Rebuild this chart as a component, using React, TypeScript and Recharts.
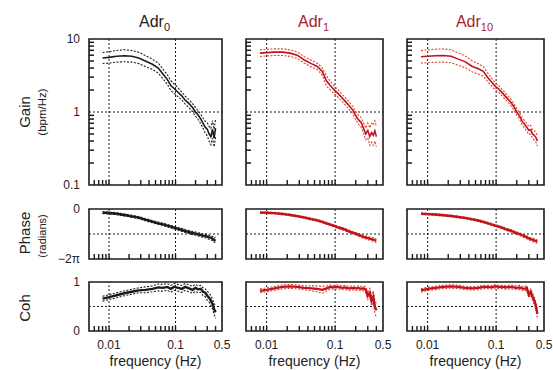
import React from 'react';
import { LineChart, Line, XAxis, YAxis, ReferenceLine, ReferenceArea } from 'recharts';

// frequency grid (Hz) shared by all panels
const FREQ = [
  0.008, 0.01, 0.013, 0.017, 0.022, 0.028, 0.035, 0.045, 0.055, 0.065,
  0.075, 0.085, 0.095, 0.11, 0.125, 0.14, 0.16, 0.18, 0.2, 0.22,
  0.24, 0.26, 0.28, 0.3, 0.32, 0.34, 0.36, 0.38, 0.4,
];

// gain (bpm/Hz) and spread (log10 units)
const GAIN_ADR0 = [5.5, 5.6, 5.8, 5.9, 5.8, 5.5, 5.0, 4.5, 4.0, 3.3, 2.8, 2.3, 2.1, 1.85, 1.65, 1.45, 1.3, 1.15, 1.0, 0.9, 0.8, 0.7, 0.62, 0.58, 0.5, 0.46, 0.58, 0.44, 0.6];
const GAIN_SE_ADR0 = [0.075, 0.078, 0.08, 0.082, 0.08, 0.078, 0.075, 0.07, 0.068, 0.066, 0.066, 0.066, 0.065, 0.06, 0.055, 0.055, 0.055, 0.055, 0.06, 0.06, 0.065, 0.07, 0.08, 0.09, 0.1, 0.11, 0.12, 0.12, 0.12];
const GAIN_ADR1 = [6.4, 6.5, 6.6, 6.6, 6.4, 6.0, 5.2, 4.6, 4.2, 3.6, 2.65, 2.3, 2.05, 1.8, 1.58, 1.41, 1.22, 1.07, 0.89, 0.78, 0.72, 0.6, 0.5, 0.56, 0.46, 0.52, 0.48, 0.55, 0.46];
const GAIN_SE_ADR1 = [0.045, 0.045, 0.045, 0.045, 0.045, 0.045, 0.045, 0.045, 0.045, 0.05, 0.07, 0.06, 0.055, 0.05, 0.05, 0.05, 0.05, 0.05, 0.055, 0.06, 0.065, 0.07, 0.08, 0.1, 0.12, 0.13, 0.14, 0.14, 0.14];
const GAIN_ADR10 = [5.7, 5.8, 5.9, 5.95, 5.8, 5.3, 4.9, 4.2, 3.9, 3.6, 3.0, 2.6, 2.3, 2.05, 1.8, 1.6, 1.4, 1.2, 1.0, 0.88, 0.75, 0.68, 0.62, 0.56, 0.57, 0.5, 0.48, 0.45, 0.4];
const GAIN_SE_ADR10 = [0.085, 0.088, 0.09, 0.09, 0.088, 0.085, 0.08, 0.075, 0.07, 0.065, 0.06, 0.055, 0.05, 0.045, 0.045, 0.045, 0.045, 0.045, 0.045, 0.045, 0.05, 0.05, 0.055, 0.055, 0.06, 0.06, 0.065, 0.065, 0.07];

// phase (radians) and spread
const PHASE_ADR0 = [-0.46, -0.5, -0.59, -0.75, -0.92, -1.09, -1.34, -1.59, -1.8, -1.93, -2.1, -2.22, -2.35, -2.51, -2.64, -2.77, -2.89, -3.02, -3.1, -3.19, -3.27, -3.35, -3.39, -3.48, -3.56, -3.6, -3.73, -3.9, -3.81];
const PHASE_SE_ADR0 = [0.12, 0.12, 0.12, 0.13, 0.13, 0.14, 0.14, 0.15, 0.15, 0.15, 0.16, 0.16, 0.17, 0.17, 0.18, 0.18, 0.19, 0.2, 0.2, 0.21, 0.22, 0.22, 0.23, 0.24, 0.25, 0.26, 0.27, 0.28, 0.3];
const PHASE_ADR1 = [-0.46, -0.48, -0.52, -0.62, -0.75, -0.9, -1.05, -1.28, -1.42, -1.62, -1.8, -1.95, -2.1, -2.3, -2.45, -2.6, -2.8, -2.98, -3.1, -3.25, -3.38, -3.5, -3.58, -3.65, -3.72, -3.78, -3.85, -3.92, -3.98];
const PHASE_SE_ADR1 = [0.1, 0.1, 0.1, 0.1, 0.11, 0.11, 0.11, 0.12, 0.12, 0.12, 0.13, 0.13, 0.13, 0.14, 0.14, 0.15, 0.15, 0.16, 0.16, 0.17, 0.18, 0.19, 0.2, 0.2, 0.21, 0.22, 0.23, 0.24, 0.25];
const PHASE_ADR10 = [-0.6, -0.64, -0.7, -0.78, -0.88, -1.0, -1.12, -1.3, -1.45, -1.62, -1.78, -1.92, -2.06, -2.22, -2.38, -2.55, -2.7, -2.88, -3.02, -3.16, -3.3, -3.42, -3.55, -3.68, -3.78, -3.86, -3.95, -4.02, -4.1];
const PHASE_SE_ADR10 = [0.1, 0.1, 0.1, 0.1, 0.1, 0.11, 0.11, 0.11, 0.12, 0.12, 0.12, 0.13, 0.13, 0.13, 0.14, 0.14, 0.15, 0.15, 0.16, 0.16, 0.17, 0.18, 0.18, 0.19, 0.2, 0.21, 0.22, 0.23, 0.24];

// coherence and spread
const COH_ADR0 = [0.66, 0.69, 0.73, 0.77, 0.8, 0.83, 0.84, 0.86, 0.89, 0.88, 0.9, 0.86, 0.9, 0.88, 0.86, 0.9, 0.87, 0.84, 0.88, 0.85, 0.86, 0.8, 0.78, 0.72, 0.68, 0.62, 0.55, 0.45, 0.38];
const COH_SE_ADR0 = [0.05, 0.05, 0.05, 0.05, 0.05, 0.05, 0.06, 0.06, 0.07, 0.07, 0.07, 0.07, 0.07, 0.07, 0.07, 0.07, 0.07, 0.07, 0.07, 0.07, 0.07, 0.08, 0.08, 0.09, 0.09, 0.1, 0.1, 0.11, 0.12];
const COH_ADR1 = [0.82, 0.84, 0.87, 0.9, 0.91, 0.9, 0.88, 0.87, 0.86, 0.84, 0.87, 0.9, 0.89, 0.9, 0.88, 0.89, 0.87, 0.88, 0.87, 0.88, 0.86, 0.87, 0.84, 0.72, 0.78, 0.62, 0.7, 0.5, 0.42];
const COH_SE_ADR1 = [0.04, 0.04, 0.04, 0.04, 0.04, 0.04, 0.04, 0.05, 0.06, 0.07, 0.05, 0.04, 0.04, 0.04, 0.04, 0.04, 0.04, 0.04, 0.04, 0.04, 0.05, 0.05, 0.06, 0.08, 0.09, 0.1, 0.12, 0.13, 0.14];
const COH_ADR10 = [0.83, 0.86, 0.88, 0.9, 0.91, 0.9, 0.88, 0.87, 0.88, 0.9, 0.9, 0.89, 0.91, 0.9, 0.9, 0.89, 0.9, 0.89, 0.88, 0.89, 0.87, 0.86, 0.88, 0.74, 0.8, 0.7, 0.62, 0.52, 0.35];
const COH_SE_ADR10 = [0.035, 0.035, 0.035, 0.035, 0.035, 0.035, 0.035, 0.035, 0.035, 0.035, 0.035, 0.035, 0.035, 0.035, 0.035, 0.035, 0.04, 0.04, 0.04, 0.04, 0.04, 0.045, 0.05, 0.06, 0.06, 0.07, 0.07, 0.08, 0.08];

const X_TICKS = [0.006, 0.007, 0.008, 0.009, 0.01, 0.02, 0.03, 0.04, 0.05, 0.06, 0.07, 0.08, 0.09, 0.1, 0.2, 0.3, 0.4, 0.5];
const X_LABELS: Record<string, string> = { '0.01': '0.01', '0.1': '0.1', '0.5': '0.5' };
const GAIN_TICKS = [0.1, 0.2, 0.3, 0.4, 0.5, 0.6, 0.7, 0.8, 0.9, 1, 2, 3, 4, 5, 6, 7, 8, 9, 10];
const GAIN_LABELS: Record<string, string> = { '0.1': '0.1', '1': '1', '10': '10' };
const PHASE_TICKS = [-2 * Math.PI, -Math.PI, 0];
const COH_TICKS = [0, 0.5, 1];

const TITLES = [
  { base: 'Adr', sub: '0' },
  { base: 'Adr', sub: '1' },
  { base: 'Adr', sub: '10' },
];

const GROUPS = [
  { gain: GAIN_ADR0, gainSe: GAIN_SE_ADR0, phase: PHASE_ADR0, phaseSe: PHASE_SE_ADR0, coh: COH_ADR0, cohSe: COH_SE_ADR0 },
  { gain: GAIN_ADR1, gainSe: GAIN_SE_ADR1, phase: PHASE_ADR1, phaseSe: PHASE_SE_ADR1, coh: COH_ADR1, cohSe: COH_SE_ADR1 },
  { gain: GAIN_ADR10, gainSe: GAIN_SE_ADR10, phase: PHASE_ADR10, phaseSe: PHASE_SE_ADR10, coh: COH_ADR10, cohSe: COH_SE_ADR10 },
];

const TABLE = FREQ.map((f, i) => {
  const row: Record<string, number> = { f };
  GROUPS.forEach((g, k) => {
    const m = Math.pow(10, g.gainSe[i]);
    row[`gain${k}`] = g.gain[i];
    row[`gain${k}hi`] = g.gain[i] * m;
    row[`gain${k}lo`] = g.gain[i] / m;
    row[`phase${k}`] = g.phase[i];
    row[`phase${k}hi`] = g.phase[i] + g.phaseSe[i];
    row[`phase${k}lo`] = g.phase[i] - g.phaseSe[i];
    row[`coh${k}`] = g.coh[i];
    row[`coh${k}hi`] = g.coh[i] + g.cohSe[i];
    row[`coh${k}lo`] = g.coh[i] - g.cohSe[i];
  });
  return row;
});

const FONT = '"Liberation Sans", Arial, sans-serif';
const INK = '#1b1b1b';
const RED = '#c1121f';
const RED_BAND = '#d9472b';
const RED_TITLE = '#a51d2a';

const COL_LEFT = [89, 246, 407];
const COL_W = [133, 137, 137];
const ROWS = [
  { key: 'gain', top: 39, h: 146, domain: [0.1, 10], ticks: GAIN_TICKS, scale: 'log', mid: 1 },
  { key: 'phase', top: 209, h: 50, domain: [-2 * Math.PI, 0], ticks: PHASE_TICKS, scale: 'linear', mid: -Math.PI },
  { key: 'coh', top: 282, h: 49, domain: [0, 1], ticks: COH_TICKS, scale: 'linear', mid: 0.5 },
];

const YW = 40;
const MT = 10;
const MR = 12;
const XH = 26;

function XTick(props: any) {
  const { x, y, payload, showLabel } = props;
  const v = payload.value;
  const label = X_LABELS[String(v)];
  const len = v >= 0.5 ? 0 : 5;
  return (
    <g>
      {len > 0 && <line x1={x} x2={x} y1={y} y2={y - len} stroke={INK} strokeWidth={1.4} />}
      {showLabel && label && (
        <text x={x} y={y + 18} textAnchor="middle" fontSize={12} fontFamily={FONT} fill="#222">
          {label}
        </text>
      )}
    </g>
  );
}

function yLabel(rowKey: string, v: number) {
  if (rowKey === 'gain') return GAIN_LABELS[String(v)];
  if (rowKey === 'phase') {
    if (v === 0) return '0';
    if (v < -6) return '\u22122\u03c0';
    return undefined;
  }
  if (v === 0) return '0';
  if (v === 1) return '1';
  return undefined;
}

function YTick(props: any) {
  const { y, payload, rowKey, showLabel, plotLeft } = props;
  const v = payload.value;
  const label = yLabel(rowKey, v);
  const minor = rowKey === 'gain' && v !== 0.1 && v !== 1 && v !== 10;
  return (
    <g>
      {minor && <line x1={plotLeft} x2={plotLeft + 5} y1={y} y2={y} stroke={INK} strokeWidth={1.5} />}
      {showLabel && label && (
        <text x={plotLeft - 9} y={y} dy="0.35em" textAnchor="end" fontSize={12} fontFamily={FONT} fill="#222">
          {label}
        </text>
      )}
    </g>
  );
}

function Panel({ col, row }: { col: number; row: number }) {
  const r = ROWS[row];
  const w = COL_W[col];
  const red = col > 0;
  const main = red ? RED : INK;
  const band = red ? RED_BAND : INK;
  const k = `${r.key}${col}`;
  const thick = row === 0 ? 1.6 : 2.4;
  return (
    <div style={{ position: 'absolute', left: COL_LEFT[col] - YW, top: r.top - MT }}>
      <LineChart
        width={YW + w + MR}
        height={MT + r.h + XH}
        data={TABLE}
        margin={{ top: MT, right: MR, left: 0, bottom: 0 }}
      >
        <XAxis
          dataKey="f"
          type="number"
          scale="log"
          domain={[0.005, 0.5]}
          allowDataOverflow
          ticks={X_TICKS}
          interval={0}
          height={XH}
          axisLine={false}
          tickLine={false}
          tickSize={0}
          tickMargin={0}
          tick={(p: any) => <XTick {...p} showLabel={row === 2} />}
        />
        <YAxis
          type="number"
          scale={r.scale as any}
          domain={r.domain}
          allowDataOverflow
          ticks={r.ticks}
          interval={0}
          width={YW}
          axisLine={false}
          tickLine={false}
          tickSize={0}
          tickMargin={0}
          tick={(p: any) => <YTick {...p} rowKey={r.key} showLabel={col === 0} plotLeft={YW} />}
        />
        <ReferenceLine x={0.01} stroke={INK} strokeWidth={1} strokeDasharray="2 2" />
        <ReferenceLine x={0.1} stroke={INK} strokeWidth={1} strokeDasharray="2 2" />
        <ReferenceLine y={r.mid} stroke={INK} strokeWidth={1} strokeDasharray="2 2" />
        <Line dataKey={`${k}hi`} stroke={band} strokeWidth={1.1} strokeDasharray="2 1.5" dot={false} isAnimationActive={false} />
        <Line dataKey={`${k}lo`} stroke={band} strokeWidth={1.1} strokeDasharray="2 1.5" dot={false} isAnimationActive={false} />
        <Line dataKey={k} stroke={main} strokeWidth={thick} dot={false} isAnimationActive={false} />
        <ReferenceArea
          x1={0.005}
          x2={0.5}
          y1={r.domain[0]}
          y2={r.domain[1]}
          fill="none"
          stroke={INK}
          strokeWidth={1.6}
          ifOverflow="visible"
        />
      </LineChart>
    </div>
  );
}

function Labels() {
  const centers = COL_LEFT.map((l, i) => l + COL_W[i] / 2);
  return (
    <svg width={553} height={370} style={{ position: 'absolute', left: 0, top: 0 }} fontFamily={FONT}>
      {TITLES.map((t, i) => (
        <text key={t.sub} x={centers[i] - 1} y={27} textAnchor="middle" fontSize={16} fill={i === 0 ? '#222' : RED_TITLE}>
          {t.base}
          <tspan fontSize={11} dy={4}>{t.sub}</tspan>
        </text>
      ))}
      <text transform="translate(30,112) rotate(-90)" textAnchor="middle" fontSize={15} fill="#222">Gain</text>
      <text transform="translate(46,112) rotate(-90)" textAnchor="middle" fontSize={11.5} fill="#222">(bpm/Hz)</text>
      <text transform="translate(30,233) rotate(-90)" textAnchor="middle" fontSize={15} fill="#222">Phase</text>
      <text transform="translate(46,236) rotate(-90)" textAnchor="middle" fontSize={11} fill="#222">(radians)</text>
      <text transform="translate(30,308) rotate(-90)" textAnchor="middle" fontSize={15} fill="#222">Coh</text>
      {centers.map((c) => (
        <text key={c} x={c} y={366} textAnchor="middle" fontSize={14} fill="#222">frequency (Hz)</text>
      ))}
    </svg>
  );
}

export default function App() {
  return (
    <div style={{ position: 'absolute', left: 0, top: 0, width: 553, height: 370, background: '#fff', overflow: 'hidden' }}>
      <Labels />
      {[0, 1, 2].map((row) => [0, 1, 2].map((col) => <Panel key={`${row}-${col}`} row={row} col={col} />))}
    </div>
  );
}
